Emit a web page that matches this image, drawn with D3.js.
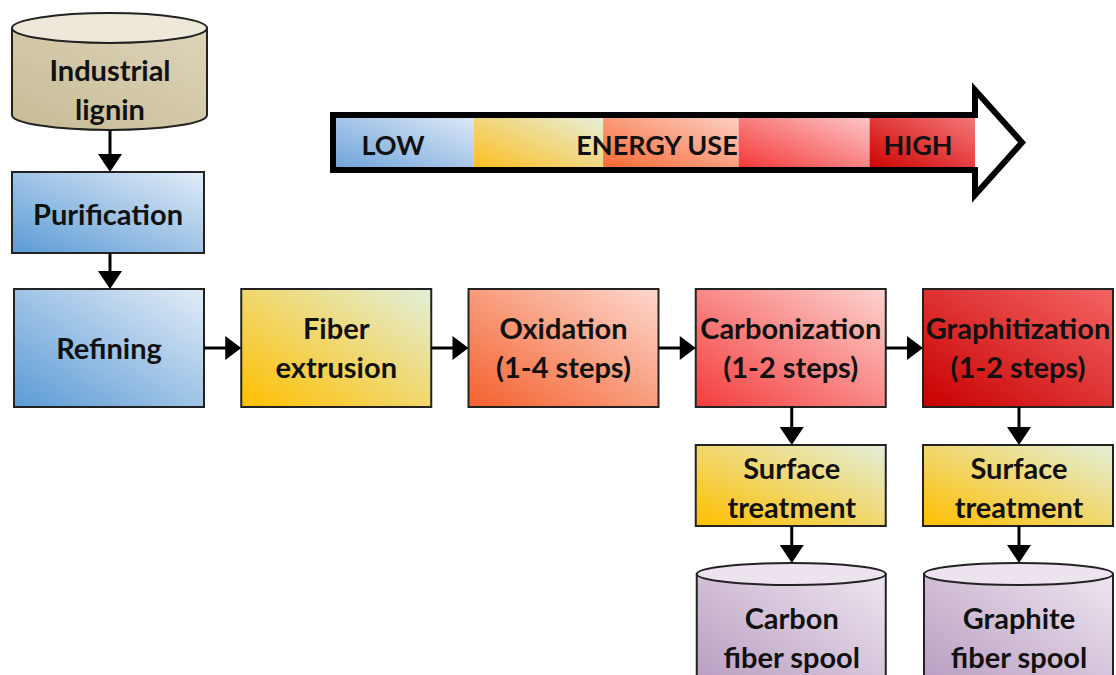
<!DOCTYPE html>
<html>
<head>
<meta charset="utf-8">
<script src="https://cdn.jsdelivr.net/npm/d3@7"></script>
<style>
  body { margin: 0; background: #fff; }
  text { font-family: Lato, "Open Sans", sans-serif; font-weight: 700; fill: #111; }
</style>
</head>
<body>
<div id="chart"></div>
<script>
(() => {
    // ---------- data ----------
    const mainSteps = ["Refining", "Fiber extrusion", "Oxidation", "Carbonization", "Graphitization"];
    const mainLabels = [["Refining"], ["Fiber", "extrusion"], ["Oxidation", "(1-4 steps)"], ["Carbonization", "(1-2 steps)"], ["Graphitization", "(1-2 steps)"]];
    const mainColors = [["#5b9bd5", "#e2ecf7"], ["#ffbf00", "#e2efda"], ["#f4602c", "#fdd8cd"], ["#f43c3c", "#fdd3cf"], ["#c80000", "#f46464"]];
    const branchSteps = ["Carbonization", "Graphitization"];
    const branchLabels = [["Surface", "treatment"], ["Surface", "treatment"]];
    const spoolLabels = [["Carbon", "fiber spool"], ["Graphite", "fiber spool"]];
    const energyLabels = ["LOW", "ENERGY USE", "HIGH"];
    const energyBreaks = [0, 0.215, 0.418, 0.63, 0.835, 1];
    const energyColors = [["#6fa3da", "#dde9f6"], ["#fdbd1e", "#e6f0dc"], ["#f8672f", "#fcd2c7"], ["#f43535", "#fdcaca"], ["#cc0000", "#f77a7a"]];

    const width = 1116, height = 675;
    const svg = d3.select("#chart").append("svg")
        .attr("width", width)
        .attr("height", height);
    const defs = svg.append("defs");

    function gradient(id, pair) {
        const g = defs.append("linearGradient")
            .attr("id", id)
            .attr("x1", 0).attr("y1", 1)
            .attr("x2", 1).attr("y2", 0);
        g.append("stop").attr("offset", "0%").attr("stop-color", pair[0]);
        g.append("stop").attr("offset", "100%").attr("stop-color", pair[1]);
        return "url(#" + id + ")";
    }

    // columns of the main row
    const boxW = 190;
    const x = d3.scaleLinear().domain([0, mainSteps.length - 1]).range([14, 923]);
    const rowTop = 289, rowH = 118, rowMid = rowTop + rowH / 2;
    const lineGap = 39;
    const fs = 29;

    function labelLines(g, lines, cx, cy, size) {
        const n = lines.length;
        g.selectAll(null)
            .data(lines)
            .join("text")
            .attr("x", cx)
            .attr("y", (d, i) => cy + (i - (n - 1) / 2) * lineGap)
            .attr("text-anchor", "middle")
            .attr("dominant-baseline", "central")
            .attr("font-size", size)
            .text(d => d);
    }

    function arrowDown(xc, y1, y2) {
        svg.append("line").attr("x1", xc).attr("x2", xc).attr("y1", y1).attr("y2", y2 - 14)
            .attr("stroke", "#000").attr("stroke-width", 3);
        svg.append("path")
            .attr("d", `M${xc - 12},${y2 - 18} L${xc + 12},${y2 - 18} L${xc},${y2} Z`)
            .attr("fill", "#000");
    }
    function arrowRight(yc, x1, x2) {
        svg.append("line").attr("y1", yc).attr("y2", yc).attr("x1", x1).attr("x2", x2 - 12)
            .attr("stroke", "#000").attr("stroke-width", 3);
        svg.append("path")
            .attr("d", `M${x2 - 16},${yc - 12} L${x2 - 16},${yc + 12} L${x2},${yc} Z`)
            .attr("fill", "#000");
    }

    function cylinder(x0, w, top, bottom, ry, bodyFill, topFill) {
        const rx = w / 2;
        const g = svg.append("g");
        g.append("path")
            .attr("d", `M${x0},${top + ry} L${x0},${bottom} A${rx},${ry} 0 0 0 ${x0 + w},${bottom} L${x0 + w},${top + ry} Z`)
            .attr("fill", bodyFill).attr("stroke", "#222").attr("stroke-width", 2);
        g.append("ellipse")
            .attr("cx", x0 + rx).attr("cy", top + ry)
            .attr("rx", rx).attr("ry", ry)
            .attr("fill", topFill).attr("stroke", "#222").attr("stroke-width", 2);
        return g;
    }

    // ---------- energy arrow ----------
    const eL = 333, eR = 975, eT = 115, eB = 170;
    const ex = d3.scaleLinear().domain([0, 1]).range([eL + 3, eR]);
    svg.append("path")
        .attr("d", `M${eL},${eT} L${eR},${eT} L${eR},90 L1022,142.5 L${eR},195 L${eR},${eB} L${eL},${eB} Z`)
        .attr("fill", "#fff");
    svg.selectAll(".eseg")
        .data(energyColors)
        .join("rect")
        .attr("class", "eseg")
        .attr("x", (d, i) => ex(energyBreaks[i]))
        .attr("width", (d, i) => ex(energyBreaks[i + 1]) - ex(energyBreaks[i]))
        .attr("y", eT)
        .attr("height", eB - eT)
        .attr("fill", (d, i) => gradient("eg" + i, d));
    svg.append("path")
        .attr("d", `M${eR},${eT} L${eR},90 L1022,142.5 L${eR},195 L${eR},${eB} L${eL},${eB} L${eL},${eT} Z`)
        .attr("fill", "none").attr("stroke", "#000").attr("stroke-width", 6)
        .attr("stroke-linejoin", "miter");
    const eLabelX = [393, 657, 918];
    svg.selectAll(".elab")
        .data(energyLabels)
        .join("text")
        .attr("class", "elab")
        .attr("x", (d, i) => eLabelX[i])
        .attr("y", 144)
        .attr("text-anchor", "middle")
        .attr("dominant-baseline", "central")
        .attr("font-size", 27)
        .text(d => d);

    // ---------- lignin & purification ----------
    const lig = cylinder(12, 195, 13, 115, 15, gradient("lig", ["#c7bb95", "#ddd4ba"]), "#eee8da");
    labelLines(lig, ["Industrial", "lignin"], 110, 89, fs);

    const pur = svg.append("g");
    pur.append("rect").attr("x", 12).attr("y", 172).attr("width", 192).attr("height", 81)
        .attr("fill", gradient("pur", mainColors[0])).attr("stroke", "#222").attr("stroke-width", 2);
    labelLines(pur, ["Purification"], 108, 213, fs);

    arrowDown(110, 130, 172);
    arrowDown(110, 253, 289);

    // ---------- main row ----------
    const boxes = svg.selectAll(".main")
        .data(mainSteps)
        .join("g")
        .attr("class", "main");
    boxes.append("rect")
        .attr("x", (d, i) => x(i))
        .attr("y", rowTop)
        .attr("width", boxW)
        .attr("height", rowH)
        .attr("fill", (d, i) => gradient("mg" + i, mainColors[i]))
        .attr("stroke", "#222").attr("stroke-width", 2);
    boxes.each(function (d, i) {
        labelLines(d3.select(this), mainLabels[i], x(i) + boxW / 2, rowMid - 1, fs);
    });
    for (let i = 0; i < mainSteps.length - 1; i++) {
        arrowRight(rowMid, x(i) + boxW, x(i + 1));
    }

    // ---------- branches ----------
    const stTop = 445, stH = 81;
    const spTop = 563;
    branchSteps.forEach((step, k) => {
        const i = mainSteps.indexOf(step);
        const bx = x(i);
        const cx = bx + boxW / 2 + 1;
        arrowDown(cx, rowTop + rowH, stTop);
        const g = svg.append("g");
        g.append("rect").attr("x", bx).attr("y", stTop).attr("width", boxW).attr("height", stH)
            .attr("fill", gradient("st" + k, mainColors[1])).attr("stroke", "#222").attr("stroke-width", 2);
        labelLines(g, branchLabels[k], cx, stTop + stH / 2 + 1, fs);
        arrowDown(cx, stTop + stH, spTop);
        const sp = cylinder(bx + 1, boxW - 1, spTop, 690, 11, gradient("sp" + k, ["#b497bd", "#eee6f0"]), "#ede3ef");
        labelLines(sp, spoolLabels[k], cx, 637, fs);
    });
})();
</script>
</body>
</html>
